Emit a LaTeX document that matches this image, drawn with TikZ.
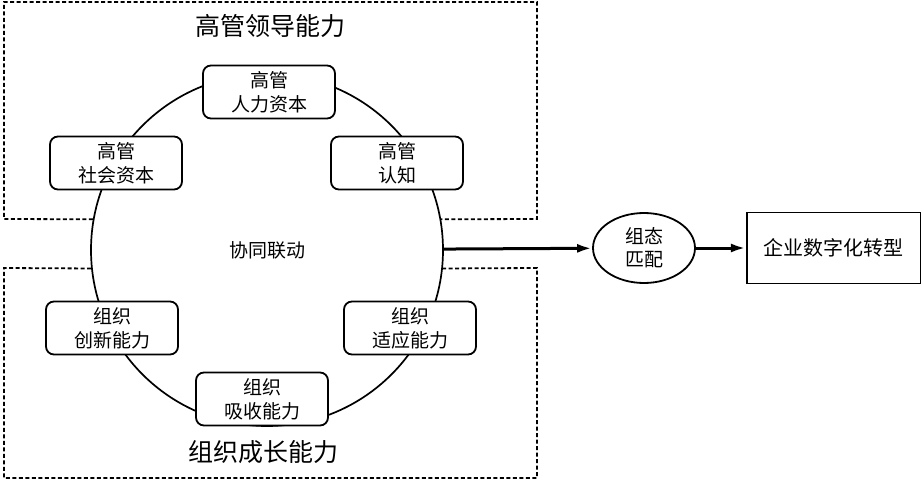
\documentclass[tikz,border=0pt]{standalone}
\usepackage{fontspec}
\setmainfont{Noto Sans CJK SC}
\usepackage{tikz}
\usetikzlibrary{arrows,arrows.meta,shapes,positioning}

\begin{document}
\begin{tikzpicture}[>={Latex[length=15bp,width=9bp]},
	ability/.style={draw, rounded corners=8bp, fill=white, line width=1.8bp, minimum width=132bp, minimum height=53bp, align=center, inner sep=1bp, font=\fontsize{19bp}{24bp}\selectfont},
	title/.style={font=\fontsize{25bp}{30bp}\selectfont},
	region/.style={line width=1.8bp, dash pattern=on 4bp off 2.5bp}]

	\useasboundingbox (0bp,0bp) rectangle (921bp,-481bp);

	\node (ring) at (267bp,-250bp) [circle, draw, line width=1.7bp, minimum size=352bp, inner sep=0pt, font=\fontsize{19bp}{24bp}\selectfont] {协同联动};

	% upper and lower regions
	\draw [region] (ring.170) -- (4bp,-219bp) -- (4bp,-2bp) -- (537bp,-2bp) -- (537bp,-219bp) -- (ring.10);
	\draw [region] (ring.186) -- (4bp,-268bp) -- (4bp,-478bp) -- (537bp,-478bp) -- (537bp,-268bp) -- (ring.354);

	\node (lead) at (270bp,-26bp) [title] {高管领导能力};
	\node (grow) at (263bp,-452bp) [title] {组织成长能力};

	\node (human) at (269bp,-92bp) [ability] {高管\\人力资本};
	\node (social) at (116bp,-163bp) [ability] {高管\\社会资本};
	\node (cognition) at (397bp,-163bp) [ability] {高管\\认知};
	\node (innovation) at (112bp,-328bp) [ability] {组织\\创新能力};
	\node (adaption) at (410bp,-328bp) [ability] {组织\\适应能力};
	\node (absorption) at (262bp,-399bp) [ability] {组织\\吸收能力};

	\node (match) at (644bp,-248bp) [ellipse, draw, line width=1.8bp, minimum width=102bp, minimum height=70bp, inner sep=0pt, align=center, font=\fontsize{19bp}{23bp}\selectfont] {组态\\匹配};
	\node (digital) [right=50bp of match, draw, line width=1.8bp, minimum width=174bp, minimum height=71bp, font=\fontsize{20bp}{24bp}\selectfont] {企业数字化转型};

	\draw [->, line width=3bp] (ring) to (match);
	\draw [->, line width=3bp] (match) to (digital);

\end{tikzpicture}
\end{document}
